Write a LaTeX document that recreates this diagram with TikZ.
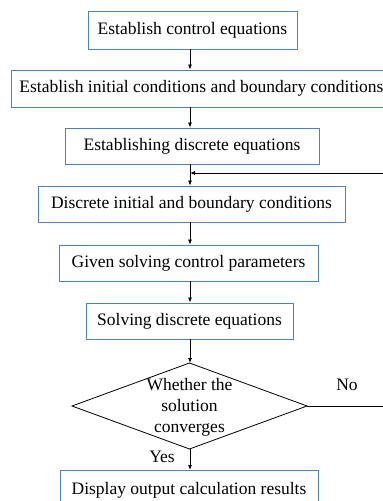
\documentclass[tikz,border=0pt]{standalone}
\usepackage{fontspec}
\setmainfont{Liberation Serif}
\usetikzlibrary{shapes.geometric,arrows.meta}
\definecolor{boxblue}{RGB}{79,129,189}
\tikzset{
  stepbox/.style={draw=boxblue, line width=0.9pt, fill=white, inner sep=0pt, font=\fontsize{17.5}{21}\selectfont},
  conn/.style={draw=black, line width=0.8pt, -{Latex[length=5pt,width=4pt]}},
  plain/.style={draw=black, line width=0.8pt},
  lbl/.style={font=\fontsize{17.5}{21}\selectfont, inner sep=0pt}
}
\begin{document}
\begin{tikzpicture}[x=1pt,y=-1pt]
\useasboundingbox (0,0) rectangle (383,501);
\clip (0,0) rectangle (383,501);
\coordinate (c) at (190,0);
\node[stepbox, minimum width=209pt, minimum height=38pt] (b1) at (192.5,30) {Establish control equations};
\node[stepbox, anchor=west, minimum height=37pt, inner xsep=8pt] (b2) at (11,88.5) {Establish initial conditions and boundary conditions};
\node[stepbox, minimum width=254pt, minimum height=36pt] (b3) at (192,146) {Establishing discrete equations};
\node[stepbox, minimum width=307pt, minimum height=36pt] (b4) at (191.5,204) {Discrete initial and boundary conditions};
\node[stepbox, minimum width=259pt, minimum height=36pt] (b5) at (188.5,263) {Given solving control parameters};
\node[stepbox, minimum width=207pt, minimum height=36pt] (b6) at (189.5,321) {Solving discrete equations};
\coordinate (dn) at (189.5,363);
\coordinate (ds) at (189.5,449);
\coordinate (dw) at (72,406);
\coordinate (de) at (307,406);
\draw[plain] (dn) -- (de) -- (ds) -- (dw) -- cycle;
\node[align=center, inner sep=0pt, font=\fontsize{17.5}{21}\selectfont] (d) at (189.5,407) {Whether the\\solution\\converges};
\node[stepbox, minimum width=258pt, minimum height=40pt, anchor=north] (b7) at (189,470) {\raisebox{-6pt}{Display output calculation results}};
\node[lbl] (no) at (347,385) {No};
\node[lbl] (yes) at (162,457) {Yes};
\coordinate (j) at (190,173);
\coordinate (r) at (395,0);
\draw[conn] (b1.south -| c) -- (b2.north -| c);
\draw[conn] (b2.south -| c) -- (b3.north -| c);
\draw[conn] (b3.south -| c) -- (b4.north -| c);
\draw[conn] (b4.south -| c) -- (b5.north -| c);
\draw[conn] (b5.south -| c) -- (b6.north -| c);
\draw[conn] (b6.south -| c) -- (dn -| c);
\draw[conn] (ds -| c) -- (b7.north -| c);
\draw[plain] (de) -- (de -| r) -- (r |- j);
\draw[conn] (r |- j) -- (j);
\end{tikzpicture}
\end{document}
